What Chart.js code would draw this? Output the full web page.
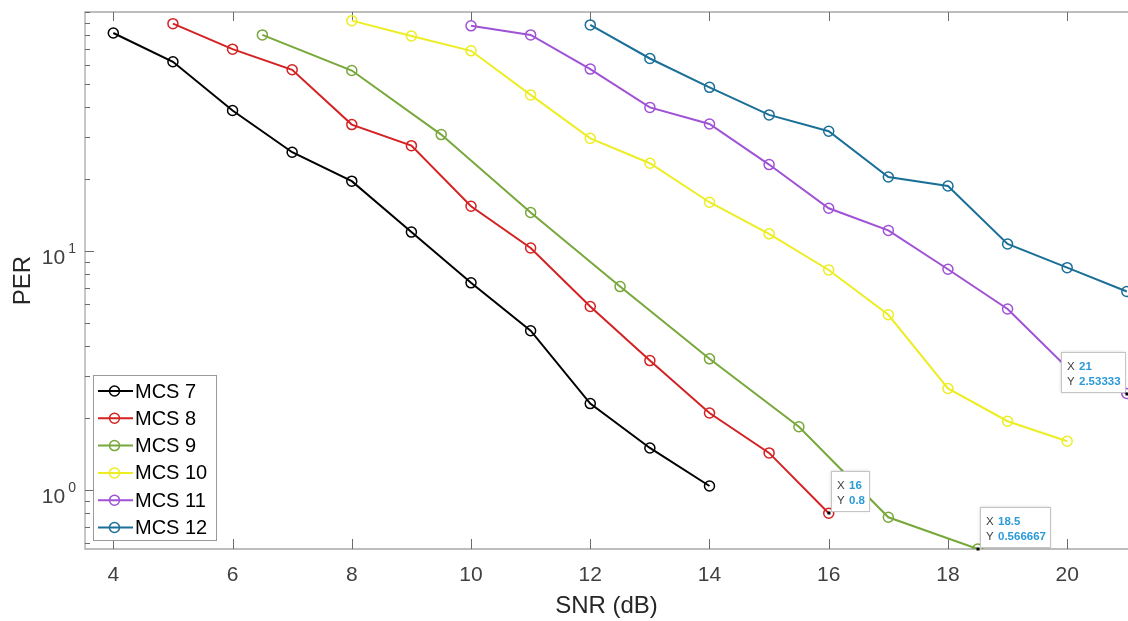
<!DOCTYPE html>
<html>
<head>
<meta charset="utf-8">
<script src="https://cdn.jsdelivr.net/npm/chart.js@4.4.1/dist/chart.umd.min.js"></script>
<style>
  html, body { margin: 0; padding: 0; background: #fff; overflow: hidden; }
  canvas { display: block; }
</style>
</head>
<body>
<canvas id="chart" width="1128" height="621"></canvas>
<script>
// data
const seriesNames = ['MCS 7', 'MCS 8', 'MCS 9', 'MCS 10', 'MCS 11', 'MCS 12'];
const mcs7X = [4, 5, 6, 7, 8, 9, 10, 11, 12, 13, 14];
const mcs7Y = [81.7, 61.9, 38.7, 25.9, 19.6, 12.0, 7.36, 4.64, 2.30, 1.50, 1.04];
const mcs8X = [5, 6, 7, 8, 9, 10, 11, 12, 13, 14, 15, 16];
const mcs8Y = [89.4, 69.9, 57.3, 33.8, 27.6, 15.4, 10.3, 5.86, 3.48, 2.10, 1.43, 0.8];
const mcs9X = [6.5, 8, 9.5, 11, 12.5, 14, 15.5, 17, 18.5];
const mcs9Y = [80.2, 56.9, 30.7, 14.5, 7.10, 3.54, 1.84, 0.769, 0.566667];
const mcs10X = [8, 9, 10, 11, 12, 13, 14, 15, 16, 17, 18, 19, 20];
const mcs10Y = [92.0, 79.4, 68.8, 45.0, 29.6, 23.3, 16.0, 11.8, 8.33, 5.41, 2.66, 1.94, 1.60];
const mcs11X = [10, 11, 12, 13, 14, 15, 16, 17, 18, 19, 20, 21];
const mcs11Y = [87.5, 80.2, 57.7, 39.9, 34.0, 23.0, 15.1, 12.2, 8.39, 5.72, 3.25, 2.53333];
const mcs12X = [12, 13, 14, 15, 16, 17, 18, 19, 20, 21];
const mcs12Y = [88.3, 63.9, 48.4, 37.1, 31.7, 20.4, 18.7, 10.7, 8.52, 6.77];

const xTicks = [4, 6, 8, 10, 12, 14, 16, 18, 20];
const yTicks = [0.6, 0.7, 0.8, 0.9, 1, 2, 3, 4, 5, 6, 7, 8, 9, 10, 20, 30, 40, 50, 60, 70, 80, 90, 100];
const yLabelDecades = [1, 10];

// data tips: [series index, point index, which side the box sits]
const tips = [[1, 11, 'right'], [2, 8, 'right'], [4, 11, 'left']];

const colors = ['#000000', '#d42222', '#77a83a', '#eded24', '#a052d6', '#1a6f98'];
const allX = [mcs7X, mcs8X, mcs9X, mcs10X, mcs11X, mcs12X];
const allY = [mcs7Y, mcs8Y, mcs9Y, mcs10Y, mcs11Y, mcs12Y];

const FONT = '"Liberation Sans", Arial, Helvetica, sans-serif';

const datasets = seriesNames.map((name, i) => ({
    label: name,
    data: allX[i].map((x, j) => ({ x: x, y: allY[i][j] })),
    borderColor: colors[i],
    backgroundColor: colors[i],
    borderWidth: 2,
    pointRadius: 5,
    pointBorderWidth: 1.5,
    pointBackgroundColor: 'rgba(0,0,0,0)',
    pointBorderColor: colors[i],
    tension: 0
}));

const axesBox = {
    id: 'axesBox',
    beforeDatasetsDraw(chart) {
        const { ctx, chartArea: a, scales } = chart;
        ctx.save();
        ctx.strokeStyle = '#a8a8a8';
        ctx.lineWidth = 1.3;
        ctx.beginPath();
        ctx.moveTo(a.right, a.top); ctx.lineTo(a.left, a.top);
        ctx.lineTo(a.left, a.bottom); ctx.lineTo(a.right, a.bottom);
        ctx.stroke();

        ctx.strokeStyle = '#6b6b6b';
        ctx.lineWidth = 1;
        ctx.beginPath();
        xTicks.forEach(v => {
            const px = Math.round(scales.x.getPixelForValue(v)) + 0.5;
            ctx.moveTo(px, a.bottom); ctx.lineTo(px, a.bottom - 10);
            ctx.moveTo(px, a.top); ctx.lineTo(px, a.top + 9);
        });
        yTicks.forEach(v => {
            const py = Math.round(scales.y.getPixelForValue(v)) + 0.5;
            const len = yLabelDecades.includes(v) ? 9 : 5;
            ctx.moveTo(a.left, py); ctx.lineTo(a.left + len, py);
        });
        ctx.stroke();

        // log labels 10^n
        ctx.fillStyle = '#404040';
        ctx.textBaseline = 'alphabetic';
        yLabelDecades.forEach(v => {
            const py = scales.y.getPixelForValue(v);
            const exp = String(Math.round(Math.log10(v)));
            ctx.font = '14px ' + FONT;
            ctx.textAlign = 'right';
            ctx.fillText(exp, a.left - 9, py + 2);
            const ew = ctx.measureText(exp).width;
            ctx.font = '21px ' + FONT;
            ctx.fillText('10', a.left - 12 - ew, py + 13);
        });
        ctx.restore();
    },
    afterDraw(chart) {
        const { ctx } = chart;
        ctx.save();
        // legend
        const lx = 93, ly = 375, lw = 123, lh = 165;
        ctx.fillStyle = '#ffffff';
        ctx.fillRect(lx, ly, lw, lh);
        ctx.strokeStyle = '#9a9a9a';
        ctx.lineWidth = 1;
        ctx.strokeRect(lx + 0.5, ly + 0.5, lw, lh);
        seriesNames.forEach((name, i) => {
            const y = 391 + i * 27.3;
            ctx.strokeStyle = colors[i];
            ctx.lineWidth = 2;
            ctx.beginPath();
            ctx.moveTo(98, y); ctx.lineTo(133, y);
            ctx.stroke();
            ctx.lineWidth = 1.5;
            ctx.beginPath();
            ctx.arc(114.5, y, 5, 0, Math.PI * 2);
            ctx.stroke();
            ctx.fillStyle = '#000000';
            ctx.font = '20px ' + FONT;
            ctx.textAlign = 'left';
            ctx.textBaseline = 'middle';
            ctx.fillText(name, 135, y + 1);
        });

        // data tips
        tips.forEach(([si, pi, side]) => {
            const pt = chart.getDatasetMeta(si).data[pi];
            const raw = datasets[si].data[pi];
            const xs = String(raw.x);
            const ys = String(Number(raw.y.toPrecision(6)));
            ctx.font = 'bold 11.5px ' + FONT;
            const tw = Math.max(ctx.measureText(xs).width, ctx.measureText(ys).width);
            const w = Math.round(18 + tw + 4), h = 40;
            const bx = side === 'right' ? Math.round(pt.x + 2) : Math.round(pt.x - 2 - w);
            const by = Math.round(pt.y - 2 - h);
            ctx.shadowColor = 'rgba(0,0,0,0.18)';
            ctx.shadowBlur = 3;
            ctx.fillStyle = '#ffffff';
            ctx.fillRect(bx, by, w, h);
            ctx.shadowBlur = 0;
            ctx.shadowColor = 'rgba(0,0,0,0)';
            ctx.strokeStyle = '#c4c4c4';
            ctx.lineWidth = 1;
            ctx.strokeRect(bx + 0.5, by + 0.5, w, h);
            ctx.textAlign = 'left';
            ctx.textBaseline = 'alphabetic';
            ctx.fillStyle = '#404040';
            ctx.font = '11.5px ' + FONT;
            ctx.fillText('X', bx + 6, by + 18);
            ctx.fillText('Y', bx + 6, by + 33);
            ctx.fillStyle = '#2b9ad6';
            ctx.font = 'bold 11.5px ' + FONT;
            ctx.fillText(xs, bx + 18, by + 18);
            ctx.fillText(ys, bx + 18, by + 33);
            ctx.fillStyle = '#000000';
            ctx.fillRect(Math.round(pt.x) - 1.5, Math.round(pt.y) - 1.5, 3, 3);
        });
        ctx.restore();
    }
};

const chart = new Chart(document.getElementById('chart').getContext('2d'), {
    type: 'line',
    data: { datasets: datasets },
    options: {
        responsive: false,
        animation: false,
        layout: { autoPadding: false, padding: { left: 0, right: 0, top: 12, bottom: 0 } },
        plugins: {
            legend: { display: false },
            tooltip: { enabled: false }
        },
        scales: {
            x: {
                type: 'linear',
                min: 3.525,
                max: 21.02,
                afterBuildTicks: s => { s.ticks = xTicks.map(v => ({ value: v })); },
                afterFit: s => { s.height = 72; s.paddingLeft = 0; s.paddingRight = 0; },
                grid: { display: false, drawTicks: false },
                border: { display: false },
                ticks: {
                    color: '#404040',
                    font: { family: FONT, size: 21 },
                    padding: 14,
                    maxRotation: 0
                },
                title: {
                    display: true,
                    text: 'SNR (dB)',
                    color: '#262626',
                    font: { family: FONT, size: 24 },
                    padding: { top: 0, bottom: 0 }
                }
            },
            y: {
                type: 'logarithmic',
                min: 0.566667,
                max: 100,
                afterBuildTicks: s => { s.ticks = yTicks.map(v => ({ value: v })); },
                afterFit: s => { s.width = 85; s.paddingTop = 0; s.paddingBottom = 0; },
                grid: { display: false, drawTicks: false },
                border: { display: false },
                ticks: { display: false },
                title: {
                    display: true,
                    text: 'PER',
                    color: '#262626',
                    font: { family: FONT, size: 24 },
                    padding: { top: 9, bottom: 9 }
                }
            }
        }
    },
    plugins: [axesBox]
});
</script>
</body>
</html>
